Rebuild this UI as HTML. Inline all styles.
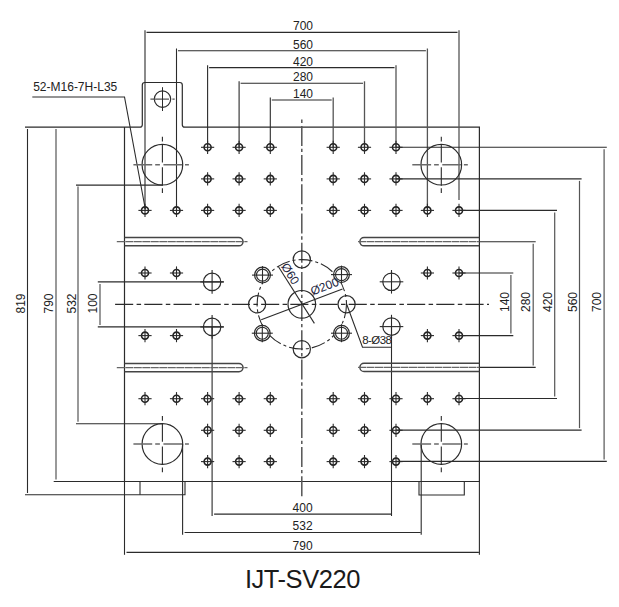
<!DOCTYPE html>
<html><head><meta charset="utf-8"><style>
html,body{margin:0;padding:0;background:#fff;}
body{width:619px;height:607px;overflow:hidden;}
svg{display:block;font-family:"Liberation Sans",sans-serif;}
</style></head><body>
<svg width="619" height="607" viewBox="0 0 619 607">
<rect width="619" height="607" fill="#fff"/>
<path d="M25,127.2 H139.8 Q142.3,127.2 142.3,124.7 V85 Q142.3,82.5 144.8,82.5 H179.8 Q182.3,82.5 182.3,85 V124.7 Q182.3,127.2 184.8,127.2 H479.4 V481.5 H124.5 V127.2" fill="none" stroke="#2b2b2b" stroke-width="1.2" />
<line x1="124.5" y1="481.5" x2="124.5" y2="554.8" stroke="#2b2b2b" stroke-width="1.1" />
<path d="M25,494.7 H185 V481.5" fill="none" stroke="#2b2b2b" stroke-width="1.1" />
<line x1="140" y1="481.5" x2="140" y2="494.7" stroke="#2b2b2b" stroke-width="1.1" />
<path d="M419,481.5 V495 H464.3 V481.5" fill="none" stroke="#2b2b2b" stroke-width="1.1" />
<circle cx="162.5" cy="99.1" r="8.2" fill="none" stroke="#2b2b2b" stroke-width="1.2" />
<line x1="150.4" y1="99.1" x2="174.7" y2="99.1" stroke="#555" stroke-width="1.3" stroke-dasharray="18.6 3.4 2.3 10"/>
<line x1="162.5" y1="87.2" x2="162.5" y2="111" stroke="#2b2b2b" stroke-width="1.0" />
<line x1="145" y1="30.2" x2="145" y2="209.0" stroke="#2b2b2b" stroke-width="1.1" />
<line x1="459" y1="30.2" x2="459" y2="200.0" stroke="#555" stroke-width="1.3" />
<line x1="146.5" y1="32.4" x2="457.5" y2="32.4" stroke="#2b2b2b" stroke-width="1.1" />
<text x="293" y="30.3" font-size="12" fill="#222" >700</text>
<line x1="176.5" y1="48.5" x2="176.5" y2="209.0" stroke="#2b2b2b" stroke-width="1.1" />
<line x1="427.4" y1="48.5" x2="427.4" y2="209.0" stroke="#555" stroke-width="1.3" />
<line x1="178.0" y1="50.8" x2="425.9" y2="50.8" stroke="#2b2b2b" stroke-width="1.1" />
<text x="293" y="49.2" font-size="12" fill="#222" >560</text>
<line x1="207.6" y1="65.2" x2="207.6" y2="147.3" stroke="#2b2b2b" stroke-width="1.1" />
<line x1="396" y1="65.2" x2="396" y2="147.3" stroke="#555" stroke-width="1.3" />
<line x1="209.1" y1="67.6" x2="394.5" y2="67.6" stroke="#2b2b2b" stroke-width="1.1" />
<text x="293" y="66.0" font-size="12" fill="#222" >420</text>
<line x1="239.1" y1="81.3" x2="239.1" y2="147.3" stroke="#2b2b2b" stroke-width="1.1" />
<line x1="364.5" y1="81.3" x2="364.5" y2="147.3" stroke="#555" stroke-width="1.3" />
<line x1="240.6" y1="83.2" x2="363.0" y2="83.2" stroke="#2b2b2b" stroke-width="1.1" />
<text x="293" y="81.0" font-size="12" fill="#222" >280</text>
<line x1="270.3" y1="97.4" x2="270.3" y2="147.3" stroke="#2b2b2b" stroke-width="1.1" />
<line x1="333.2" y1="97.4" x2="333.2" y2="147.3" stroke="#555" stroke-width="1.3" />
<line x1="271.8" y1="100.0" x2="331.7" y2="100.0" stroke="#2b2b2b" stroke-width="1.1" />
<text x="293" y="97.8" font-size="12" fill="#222" >140</text>
<line x1="396" y1="147.3" x2="606.8" y2="147.3" stroke="#2b2b2b" stroke-width="1.1" />
<line x1="396" y1="461.4" x2="606.8" y2="461.4" stroke="#2b2b2b" stroke-width="1.1" />
<line x1="604.1" y1="149.3" x2="604.1" y2="459.4" stroke="#555" stroke-width="1.2" />
<text x="0" y="0" font-size="12" fill="#222" transform="translate(601.2,312) rotate(-90)">700</text>
<line x1="396" y1="178.9" x2="581.6" y2="178.9" stroke="#2b2b2b" stroke-width="1.1" />
<line x1="396" y1="430.1" x2="581.6" y2="430.1" stroke="#2b2b2b" stroke-width="1.1" />
<line x1="579.5" y1="180.9" x2="579.5" y2="428.1" stroke="#555" stroke-width="1.2" />
<text x="0" y="0" font-size="12" fill="#222" transform="translate(576.6,312) rotate(-90)">560</text>
<line x1="459" y1="210.4" x2="557.0" y2="210.4" stroke="#2b2b2b" stroke-width="1.1" />
<line x1="459" y1="398.5" x2="557.0" y2="398.5" stroke="#2b2b2b" stroke-width="1.1" />
<line x1="554.7" y1="212.4" x2="554.7" y2="396.5" stroke="#555" stroke-width="1.2" />
<text x="0" y="0" font-size="12" fill="#222" transform="translate(551.8,312) rotate(-90)">420</text>
<line x1="479.4" y1="241.7" x2="535.7" y2="241.7" stroke="#2b2b2b" stroke-width="1.1" />
<line x1="479.4" y1="367.4" x2="535.7" y2="367.4" stroke="#2b2b2b" stroke-width="1.1" />
<line x1="533.2" y1="243.7" x2="533.2" y2="365.4" stroke="#555" stroke-width="1.2" />
<text x="0" y="0" font-size="12" fill="#222" transform="translate(530.2,312) rotate(-90)">280</text>
<line x1="459" y1="273.0" x2="513.3" y2="273.0" stroke="#2b2b2b" stroke-width="1.1" />
<line x1="459" y1="335.6" x2="513.3" y2="335.6" stroke="#2b2b2b" stroke-width="1.1" />
<line x1="510.9" y1="275.0" x2="510.9" y2="333.6" stroke="#555" stroke-width="1.2" />
<text x="0" y="0" font-size="12" fill="#222" transform="translate(508.5,312) rotate(-90)">140</text>
<line x1="27.5" y1="129" x2="27.5" y2="493" stroke="#2b2b2b" stroke-width="1.1" />
<text x="0" y="0" font-size="12" fill="#222" transform="translate(24.9,313.5) rotate(-90)">819</text>
<line x1="56" y1="129" x2="56" y2="479.5" stroke="#555" stroke-width="1.2" />
<line x1="53.7" y1="481.5" x2="124.5" y2="481.5" stroke="#2b2b2b" stroke-width="1.1" />
<text x="0" y="0" font-size="12" fill="#222" transform="translate(53.3,313.5) rotate(-90)">790</text>
<line x1="76" y1="185.1" x2="162.4" y2="185.1" stroke="#2b2b2b" stroke-width="1.1" />
<line x1="76" y1="423.8" x2="162.4" y2="423.8" stroke="#2b2b2b" stroke-width="1.1" />
<line x1="78" y1="186.6" x2="78" y2="421.8" stroke="#555" stroke-width="1.2" />
<text x="0" y="0" font-size="12" fill="#222" transform="translate(75.5,313.5) rotate(-90)">532</text>
<line x1="97.8" y1="281.9" x2="223.7" y2="281.9" stroke="#2b2b2b" stroke-width="1.1" />
<line x1="97.8" y1="326.9" x2="223.7" y2="326.9" stroke="#2b2b2b" stroke-width="1.1" />
<line x1="100" y1="283.9" x2="100" y2="324.9" stroke="#555" stroke-width="1.2" />
<text x="0" y="0" font-size="12" fill="#222" transform="translate(97.4,313.5) rotate(-90)">100</text>
<line x1="212.1" y1="326.9" x2="212.1" y2="516.0" stroke="#2b2b2b" stroke-width="1.1" />
<line x1="391.5" y1="326.5" x2="391.5" y2="516.0" stroke="#2b2b2b" stroke-width="1.1" />
<line x1="214.1" y1="514.1" x2="391.0" y2="514.1" stroke="#2b2b2b" stroke-width="1.1" />
<text x="292.6" y="512.0" font-size="12" fill="#222" >400</text>
<line x1="182.6" y1="444.0" x2="182.6" y2="534.8" stroke="#2b2b2b" stroke-width="1.1" />
<line x1="421.2" y1="444.0" x2="421.2" y2="534.8" stroke="#2b2b2b" stroke-width="1.1" />
<line x1="184.6" y1="532.5" x2="420.7" y2="532.5" stroke="#2b2b2b" stroke-width="1.1" />
<text x="292.6" y="529.7" font-size="12" fill="#222" >532</text>
<line x1="479.4" y1="481.5" x2="479.4" y2="554.8" stroke="#2b2b2b" stroke-width="1.1" />
<line x1="126.5" y1="552.4" x2="478.9" y2="552.4" stroke="#2b2b2b" stroke-width="1.1" />
<text x="292.6" y="550.4" font-size="12" fill="#222" >790</text>
<path d="M32.3,97 H124.5 L145.4,209.5" fill="none" stroke="#2b2b2b" stroke-width="1.1" />
<text x="33.2" y="91" font-size="12" fill="#222" >52-M16-7H-L35</text>
<circle cx="207.6" cy="147.3" r="3.5" fill="none" stroke="#222" stroke-width="1.6" />
<line x1="201.0" y1="147.3" x2="214.2" y2="147.3" stroke="#2b2b2b" stroke-width="1.1" />
<line x1="207.6" y1="140.70000000000002" x2="207.6" y2="153.9" stroke="#2b2b2b" stroke-width="1.1" />
<circle cx="239.1" cy="147.3" r="3.5" fill="none" stroke="#222" stroke-width="1.6" />
<line x1="232.5" y1="147.3" x2="245.7" y2="147.3" stroke="#2b2b2b" stroke-width="1.1" />
<line x1="239.1" y1="140.70000000000002" x2="239.1" y2="153.9" stroke="#2b2b2b" stroke-width="1.1" />
<circle cx="270.3" cy="147.3" r="3.5" fill="none" stroke="#222" stroke-width="1.6" />
<line x1="263.7" y1="147.3" x2="276.90000000000003" y2="147.3" stroke="#2b2b2b" stroke-width="1.1" />
<line x1="270.3" y1="140.70000000000002" x2="270.3" y2="153.9" stroke="#2b2b2b" stroke-width="1.1" />
<circle cx="333.2" cy="147.3" r="3.5" fill="none" stroke="#222" stroke-width="1.6" />
<line x1="326.59999999999997" y1="147.3" x2="339.8" y2="147.3" stroke="#2b2b2b" stroke-width="1.1" />
<line x1="333.2" y1="140.70000000000002" x2="333.2" y2="153.9" stroke="#2b2b2b" stroke-width="1.1" />
<circle cx="364.5" cy="147.3" r="3.5" fill="none" stroke="#222" stroke-width="1.6" />
<line x1="357.9" y1="147.3" x2="371.1" y2="147.3" stroke="#2b2b2b" stroke-width="1.1" />
<line x1="364.5" y1="140.70000000000002" x2="364.5" y2="153.9" stroke="#2b2b2b" stroke-width="1.1" />
<circle cx="396" cy="147.3" r="3.5" fill="none" stroke="#222" stroke-width="1.6" />
<line x1="389.4" y1="147.3" x2="402.6" y2="147.3" stroke="#2b2b2b" stroke-width="1.1" />
<line x1="396" y1="140.70000000000002" x2="396" y2="153.9" stroke="#2b2b2b" stroke-width="1.1" />
<circle cx="207.6" cy="178.9" r="3.5" fill="none" stroke="#222" stroke-width="1.6" />
<line x1="201.0" y1="178.9" x2="214.2" y2="178.9" stroke="#2b2b2b" stroke-width="1.1" />
<line x1="207.6" y1="172.3" x2="207.6" y2="185.5" stroke="#2b2b2b" stroke-width="1.1" />
<circle cx="239.1" cy="178.9" r="3.5" fill="none" stroke="#222" stroke-width="1.6" />
<line x1="232.5" y1="178.9" x2="245.7" y2="178.9" stroke="#2b2b2b" stroke-width="1.1" />
<line x1="239.1" y1="172.3" x2="239.1" y2="185.5" stroke="#2b2b2b" stroke-width="1.1" />
<circle cx="270.3" cy="178.9" r="3.5" fill="none" stroke="#222" stroke-width="1.6" />
<line x1="263.7" y1="178.9" x2="276.90000000000003" y2="178.9" stroke="#2b2b2b" stroke-width="1.1" />
<line x1="270.3" y1="172.3" x2="270.3" y2="185.5" stroke="#2b2b2b" stroke-width="1.1" />
<circle cx="333.2" cy="178.9" r="3.5" fill="none" stroke="#222" stroke-width="1.6" />
<line x1="326.59999999999997" y1="178.9" x2="339.8" y2="178.9" stroke="#2b2b2b" stroke-width="1.1" />
<line x1="333.2" y1="172.3" x2="333.2" y2="185.5" stroke="#2b2b2b" stroke-width="1.1" />
<circle cx="364.5" cy="178.9" r="3.5" fill="none" stroke="#222" stroke-width="1.6" />
<line x1="357.9" y1="178.9" x2="371.1" y2="178.9" stroke="#2b2b2b" stroke-width="1.1" />
<line x1="364.5" y1="172.3" x2="364.5" y2="185.5" stroke="#2b2b2b" stroke-width="1.1" />
<circle cx="396" cy="178.9" r="3.5" fill="none" stroke="#222" stroke-width="1.6" />
<line x1="389.4" y1="178.9" x2="402.6" y2="178.9" stroke="#2b2b2b" stroke-width="1.1" />
<line x1="396" y1="172.3" x2="396" y2="185.5" stroke="#2b2b2b" stroke-width="1.1" />
<circle cx="145" cy="210.4" r="3.5" fill="none" stroke="#222" stroke-width="1.6" />
<line x1="138.4" y1="210.4" x2="151.6" y2="210.4" stroke="#2b2b2b" stroke-width="1.1" />
<line x1="145" y1="203.8" x2="145" y2="217.0" stroke="#2b2b2b" stroke-width="1.1" />
<circle cx="176.5" cy="210.4" r="3.5" fill="none" stroke="#222" stroke-width="1.6" />
<line x1="169.9" y1="210.4" x2="183.1" y2="210.4" stroke="#2b2b2b" stroke-width="1.1" />
<line x1="176.5" y1="203.8" x2="176.5" y2="217.0" stroke="#2b2b2b" stroke-width="1.1" />
<circle cx="207.6" cy="210.4" r="3.5" fill="none" stroke="#222" stroke-width="1.6" />
<line x1="201.0" y1="210.4" x2="214.2" y2="210.4" stroke="#2b2b2b" stroke-width="1.1" />
<line x1="207.6" y1="203.8" x2="207.6" y2="217.0" stroke="#2b2b2b" stroke-width="1.1" />
<circle cx="239.1" cy="210.4" r="3.5" fill="none" stroke="#222" stroke-width="1.6" />
<line x1="232.5" y1="210.4" x2="245.7" y2="210.4" stroke="#2b2b2b" stroke-width="1.1" />
<line x1="239.1" y1="203.8" x2="239.1" y2="217.0" stroke="#2b2b2b" stroke-width="1.1" />
<circle cx="270.3" cy="210.4" r="3.5" fill="none" stroke="#222" stroke-width="1.6" />
<line x1="263.7" y1="210.4" x2="276.90000000000003" y2="210.4" stroke="#2b2b2b" stroke-width="1.1" />
<line x1="270.3" y1="203.8" x2="270.3" y2="217.0" stroke="#2b2b2b" stroke-width="1.1" />
<circle cx="333.2" cy="210.4" r="3.5" fill="none" stroke="#222" stroke-width="1.6" />
<line x1="326.59999999999997" y1="210.4" x2="339.8" y2="210.4" stroke="#2b2b2b" stroke-width="1.1" />
<line x1="333.2" y1="203.8" x2="333.2" y2="217.0" stroke="#2b2b2b" stroke-width="1.1" />
<circle cx="364.5" cy="210.4" r="3.5" fill="none" stroke="#222" stroke-width="1.6" />
<line x1="357.9" y1="210.4" x2="371.1" y2="210.4" stroke="#2b2b2b" stroke-width="1.1" />
<line x1="364.5" y1="203.8" x2="364.5" y2="217.0" stroke="#2b2b2b" stroke-width="1.1" />
<circle cx="396" cy="210.4" r="3.5" fill="none" stroke="#222" stroke-width="1.6" />
<line x1="389.4" y1="210.4" x2="402.6" y2="210.4" stroke="#2b2b2b" stroke-width="1.1" />
<line x1="396" y1="203.8" x2="396" y2="217.0" stroke="#2b2b2b" stroke-width="1.1" />
<circle cx="427.4" cy="210.4" r="3.5" fill="none" stroke="#222" stroke-width="1.6" />
<line x1="420.79999999999995" y1="210.4" x2="434.0" y2="210.4" stroke="#2b2b2b" stroke-width="1.1" />
<line x1="427.4" y1="203.8" x2="427.4" y2="217.0" stroke="#2b2b2b" stroke-width="1.1" />
<circle cx="459" cy="210.4" r="3.5" fill="none" stroke="#222" stroke-width="1.6" />
<line x1="452.4" y1="210.4" x2="465.6" y2="210.4" stroke="#2b2b2b" stroke-width="1.1" />
<line x1="459" y1="203.8" x2="459" y2="217.0" stroke="#2b2b2b" stroke-width="1.1" />
<circle cx="145" cy="273" r="3.5" fill="none" stroke="#222" stroke-width="1.6" />
<line x1="138.4" y1="273" x2="151.6" y2="273" stroke="#2b2b2b" stroke-width="1.1" />
<line x1="145" y1="266.4" x2="145" y2="279.6" stroke="#2b2b2b" stroke-width="1.1" />
<circle cx="176.5" cy="273" r="3.5" fill="none" stroke="#222" stroke-width="1.6" />
<line x1="169.9" y1="273" x2="183.1" y2="273" stroke="#2b2b2b" stroke-width="1.1" />
<line x1="176.5" y1="266.4" x2="176.5" y2="279.6" stroke="#2b2b2b" stroke-width="1.1" />
<circle cx="427.4" cy="273" r="3.5" fill="none" stroke="#222" stroke-width="1.6" />
<line x1="420.79999999999995" y1="273" x2="434.0" y2="273" stroke="#2b2b2b" stroke-width="1.1" />
<line x1="427.4" y1="266.4" x2="427.4" y2="279.6" stroke="#2b2b2b" stroke-width="1.1" />
<circle cx="459" cy="273" r="3.5" fill="none" stroke="#222" stroke-width="1.6" />
<line x1="452.4" y1="273" x2="465.6" y2="273" stroke="#2b2b2b" stroke-width="1.1" />
<line x1="459" y1="266.4" x2="459" y2="279.6" stroke="#2b2b2b" stroke-width="1.1" />
<circle cx="145" cy="335.6" r="3.5" fill="none" stroke="#222" stroke-width="1.6" />
<line x1="138.4" y1="335.6" x2="151.6" y2="335.6" stroke="#2b2b2b" stroke-width="1.1" />
<line x1="145" y1="329.0" x2="145" y2="342.20000000000005" stroke="#2b2b2b" stroke-width="1.1" />
<circle cx="176.5" cy="335.6" r="3.5" fill="none" stroke="#222" stroke-width="1.6" />
<line x1="169.9" y1="335.6" x2="183.1" y2="335.6" stroke="#2b2b2b" stroke-width="1.1" />
<line x1="176.5" y1="329.0" x2="176.5" y2="342.20000000000005" stroke="#2b2b2b" stroke-width="1.1" />
<circle cx="427.4" cy="335.6" r="3.5" fill="none" stroke="#222" stroke-width="1.6" />
<line x1="420.79999999999995" y1="335.6" x2="434.0" y2="335.6" stroke="#2b2b2b" stroke-width="1.1" />
<line x1="427.4" y1="329.0" x2="427.4" y2="342.20000000000005" stroke="#2b2b2b" stroke-width="1.1" />
<circle cx="459" cy="335.6" r="3.5" fill="none" stroke="#222" stroke-width="1.6" />
<line x1="452.4" y1="335.6" x2="465.6" y2="335.6" stroke="#2b2b2b" stroke-width="1.1" />
<line x1="459" y1="329.0" x2="459" y2="342.20000000000005" stroke="#2b2b2b" stroke-width="1.1" />
<circle cx="145" cy="398.7" r="3.5" fill="none" stroke="#222" stroke-width="1.6" />
<line x1="138.4" y1="398.7" x2="151.6" y2="398.7" stroke="#2b2b2b" stroke-width="1.1" />
<line x1="145" y1="392.09999999999997" x2="145" y2="405.3" stroke="#2b2b2b" stroke-width="1.1" />
<circle cx="176.5" cy="398.7" r="3.5" fill="none" stroke="#222" stroke-width="1.6" />
<line x1="169.9" y1="398.7" x2="183.1" y2="398.7" stroke="#2b2b2b" stroke-width="1.1" />
<line x1="176.5" y1="392.09999999999997" x2="176.5" y2="405.3" stroke="#2b2b2b" stroke-width="1.1" />
<circle cx="207.6" cy="398.7" r="3.5" fill="none" stroke="#222" stroke-width="1.6" />
<line x1="201.0" y1="398.7" x2="214.2" y2="398.7" stroke="#2b2b2b" stroke-width="1.1" />
<line x1="207.6" y1="392.09999999999997" x2="207.6" y2="405.3" stroke="#2b2b2b" stroke-width="1.1" />
<circle cx="239.1" cy="398.7" r="3.5" fill="none" stroke="#222" stroke-width="1.6" />
<line x1="232.5" y1="398.7" x2="245.7" y2="398.7" stroke="#2b2b2b" stroke-width="1.1" />
<line x1="239.1" y1="392.09999999999997" x2="239.1" y2="405.3" stroke="#2b2b2b" stroke-width="1.1" />
<circle cx="270.3" cy="398.7" r="3.5" fill="none" stroke="#222" stroke-width="1.6" />
<line x1="263.7" y1="398.7" x2="276.90000000000003" y2="398.7" stroke="#2b2b2b" stroke-width="1.1" />
<line x1="270.3" y1="392.09999999999997" x2="270.3" y2="405.3" stroke="#2b2b2b" stroke-width="1.1" />
<circle cx="333.2" cy="398.7" r="3.5" fill="none" stroke="#222" stroke-width="1.6" />
<line x1="326.59999999999997" y1="398.7" x2="339.8" y2="398.7" stroke="#2b2b2b" stroke-width="1.1" />
<line x1="333.2" y1="392.09999999999997" x2="333.2" y2="405.3" stroke="#2b2b2b" stroke-width="1.1" />
<circle cx="364.5" cy="398.7" r="3.5" fill="none" stroke="#222" stroke-width="1.6" />
<line x1="357.9" y1="398.7" x2="371.1" y2="398.7" stroke="#2b2b2b" stroke-width="1.1" />
<line x1="364.5" y1="392.09999999999997" x2="364.5" y2="405.3" stroke="#2b2b2b" stroke-width="1.1" />
<circle cx="396" cy="398.7" r="3.5" fill="none" stroke="#222" stroke-width="1.6" />
<line x1="389.4" y1="398.7" x2="402.6" y2="398.7" stroke="#2b2b2b" stroke-width="1.1" />
<line x1="396" y1="392.09999999999997" x2="396" y2="405.3" stroke="#2b2b2b" stroke-width="1.1" />
<circle cx="427.4" cy="398.7" r="3.5" fill="none" stroke="#222" stroke-width="1.6" />
<line x1="420.79999999999995" y1="398.7" x2="434.0" y2="398.7" stroke="#2b2b2b" stroke-width="1.1" />
<line x1="427.4" y1="392.09999999999997" x2="427.4" y2="405.3" stroke="#2b2b2b" stroke-width="1.1" />
<circle cx="459" cy="398.7" r="3.5" fill="none" stroke="#222" stroke-width="1.6" />
<line x1="452.4" y1="398.7" x2="465.6" y2="398.7" stroke="#2b2b2b" stroke-width="1.1" />
<line x1="459" y1="392.09999999999997" x2="459" y2="405.3" stroke="#2b2b2b" stroke-width="1.1" />
<circle cx="207.6" cy="430.3" r="3.5" fill="none" stroke="#222" stroke-width="1.6" />
<line x1="201.0" y1="430.3" x2="214.2" y2="430.3" stroke="#2b2b2b" stroke-width="1.1" />
<line x1="207.6" y1="423.7" x2="207.6" y2="436.90000000000003" stroke="#2b2b2b" stroke-width="1.1" />
<circle cx="239.1" cy="430.3" r="3.5" fill="none" stroke="#222" stroke-width="1.6" />
<line x1="232.5" y1="430.3" x2="245.7" y2="430.3" stroke="#2b2b2b" stroke-width="1.1" />
<line x1="239.1" y1="423.7" x2="239.1" y2="436.90000000000003" stroke="#2b2b2b" stroke-width="1.1" />
<circle cx="270.3" cy="430.3" r="3.5" fill="none" stroke="#222" stroke-width="1.6" />
<line x1="263.7" y1="430.3" x2="276.90000000000003" y2="430.3" stroke="#2b2b2b" stroke-width="1.1" />
<line x1="270.3" y1="423.7" x2="270.3" y2="436.90000000000003" stroke="#2b2b2b" stroke-width="1.1" />
<circle cx="333.2" cy="430.3" r="3.5" fill="none" stroke="#222" stroke-width="1.6" />
<line x1="326.59999999999997" y1="430.3" x2="339.8" y2="430.3" stroke="#2b2b2b" stroke-width="1.1" />
<line x1="333.2" y1="423.7" x2="333.2" y2="436.90000000000003" stroke="#2b2b2b" stroke-width="1.1" />
<circle cx="364.5" cy="430.3" r="3.5" fill="none" stroke="#222" stroke-width="1.6" />
<line x1="357.9" y1="430.3" x2="371.1" y2="430.3" stroke="#2b2b2b" stroke-width="1.1" />
<line x1="364.5" y1="423.7" x2="364.5" y2="436.90000000000003" stroke="#2b2b2b" stroke-width="1.1" />
<circle cx="396" cy="430.3" r="3.5" fill="none" stroke="#222" stroke-width="1.6" />
<line x1="389.4" y1="430.3" x2="402.6" y2="430.3" stroke="#2b2b2b" stroke-width="1.1" />
<line x1="396" y1="423.7" x2="396" y2="436.90000000000003" stroke="#2b2b2b" stroke-width="1.1" />
<circle cx="207.6" cy="461.6" r="3.5" fill="none" stroke="#222" stroke-width="1.6" />
<line x1="201.0" y1="461.6" x2="214.2" y2="461.6" stroke="#2b2b2b" stroke-width="1.1" />
<line x1="207.6" y1="455.0" x2="207.6" y2="468.20000000000005" stroke="#2b2b2b" stroke-width="1.1" />
<circle cx="239.1" cy="461.6" r="3.5" fill="none" stroke="#222" stroke-width="1.6" />
<line x1="232.5" y1="461.6" x2="245.7" y2="461.6" stroke="#2b2b2b" stroke-width="1.1" />
<line x1="239.1" y1="455.0" x2="239.1" y2="468.20000000000005" stroke="#2b2b2b" stroke-width="1.1" />
<circle cx="270.3" cy="461.6" r="3.5" fill="none" stroke="#222" stroke-width="1.6" />
<line x1="263.7" y1="461.6" x2="276.90000000000003" y2="461.6" stroke="#2b2b2b" stroke-width="1.1" />
<line x1="270.3" y1="455.0" x2="270.3" y2="468.20000000000005" stroke="#2b2b2b" stroke-width="1.1" />
<circle cx="333.2" cy="461.6" r="3.5" fill="none" stroke="#222" stroke-width="1.6" />
<line x1="326.59999999999997" y1="461.6" x2="339.8" y2="461.6" stroke="#2b2b2b" stroke-width="1.1" />
<line x1="333.2" y1="455.0" x2="333.2" y2="468.20000000000005" stroke="#2b2b2b" stroke-width="1.1" />
<circle cx="364.5" cy="461.6" r="3.5" fill="none" stroke="#222" stroke-width="1.6" />
<line x1="357.9" y1="461.6" x2="371.1" y2="461.6" stroke="#2b2b2b" stroke-width="1.1" />
<line x1="364.5" y1="455.0" x2="364.5" y2="468.20000000000005" stroke="#2b2b2b" stroke-width="1.1" />
<circle cx="396" cy="461.6" r="3.5" fill="none" stroke="#222" stroke-width="1.6" />
<line x1="389.4" y1="461.6" x2="402.6" y2="461.6" stroke="#2b2b2b" stroke-width="1.1" />
<line x1="396" y1="455.0" x2="396" y2="468.20000000000005" stroke="#2b2b2b" stroke-width="1.1" />
<circle cx="162.4" cy="164.7" r="20.3" fill="none" stroke="#2b2b2b" stroke-width="1.2" />
<line x1="133.4" y1="164.7" x2="188.9" y2="164.7" stroke="#6a6a6a" stroke-width="1.5" stroke-dasharray="18.8 3 4.7 3.5 18.6 3 4.4 100"/>
<line x1="162.4" y1="136.7" x2="162.4" y2="193.2" stroke="#2b2b2b" stroke-width="1.1" stroke-dasharray="4.7 2.6 18.5 4.7 18.5 2.6 4.7 100"/>
<circle cx="441.3" cy="164.7" r="20.3" fill="none" stroke="#2b2b2b" stroke-width="1.2" />
<line x1="412.3" y1="164.7" x2="467.8" y2="164.7" stroke="#6a6a6a" stroke-width="1.5" stroke-dasharray="18.8 3 4.7 3.5 18.6 3 4.4 100"/>
<line x1="441.3" y1="136.7" x2="441.3" y2="193.2" stroke="#2b2b2b" stroke-width="1.1" stroke-dasharray="4.7 2.6 18.5 4.7 18.5 2.6 4.7 100"/>
<circle cx="162.4" cy="444" r="20.3" fill="none" stroke="#2b2b2b" stroke-width="1.2" />
<line x1="133.4" y1="444" x2="188.9" y2="444" stroke="#6a6a6a" stroke-width="1.5" stroke-dasharray="18.8 3 4.7 3.5 18.6 3 4.4 100"/>
<line x1="162.4" y1="416" x2="162.4" y2="472.5" stroke="#2b2b2b" stroke-width="1.1" stroke-dasharray="4.7 2.6 18.5 4.7 18.5 2.6 4.7 100"/>
<circle cx="441.3" cy="444" r="20.3" fill="none" stroke="#2b2b2b" stroke-width="1.2" />
<line x1="412.3" y1="444" x2="467.8" y2="444" stroke="#6a6a6a" stroke-width="1.5" stroke-dasharray="18.8 3 4.7 3.5 18.6 3 4.4 100"/>
<line x1="441.3" y1="416" x2="441.3" y2="472.5" stroke="#2b2b2b" stroke-width="1.1" stroke-dasharray="4.7 2.6 18.5 4.7 18.5 2.6 4.7 100"/>
<circle cx="212.1" cy="281.9" r="8.7" fill="none" stroke="#2b2b2b" stroke-width="1.2" />
<line x1="200.29999999999998" y1="281.9" x2="223.9" y2="281.9" stroke="#2b2b2b" stroke-width="1.1" />
<line x1="212.1" y1="270.09999999999997" x2="212.1" y2="293.7" stroke="#2b2b2b" stroke-width="1.1" />
<circle cx="212.1" cy="326.9" r="8.7" fill="none" stroke="#2b2b2b" stroke-width="1.2" />
<line x1="200.29999999999998" y1="326.9" x2="223.9" y2="326.9" stroke="#2b2b2b" stroke-width="1.1" />
<line x1="212.1" y1="315.09999999999997" x2="212.1" y2="338.7" stroke="#2b2b2b" stroke-width="1.1" />
<circle cx="391.5" cy="281.8" r="8.7" fill="none" stroke="#2b2b2b" stroke-width="1.2" />
<line x1="379.7" y1="281.8" x2="403.3" y2="281.8" stroke="#2b2b2b" stroke-width="1.1" />
<line x1="391.5" y1="270.0" x2="391.5" y2="293.6" stroke="#2b2b2b" stroke-width="1.1" />
<circle cx="391.5" cy="326.6" r="8.7" fill="none" stroke="#2b2b2b" stroke-width="1.2" />
<line x1="379.7" y1="326.6" x2="403.3" y2="326.6" stroke="#2b2b2b" stroke-width="1.1" />
<line x1="391.5" y1="314.8" x2="391.5" y2="338.40000000000003" stroke="#2b2b2b" stroke-width="1.1" />
<path d="M124.5,237.6 H238.9 A4.1,4.1 0 0 1 238.9,245.79999999999998 H124.5" fill="none" stroke="#444" stroke-width="1.5" />
<line x1="116.8" y1="241.7" x2="247.5" y2="241.7" stroke="#666" stroke-width="1.3" stroke-dasharray="8 0.5"/>
<path d="M124.5,363.5 H238.9 A4.1,4.1 0 0 1 238.9,371.70000000000005 H124.5" fill="none" stroke="#444" stroke-width="1.5" />
<line x1="116.8" y1="367.6" x2="247.5" y2="367.6" stroke="#666" stroke-width="1.3" stroke-dasharray="8 0.5"/>
<path d="M479.4,237.6 H364 A4.1,4.1 0 0 0 364,245.79999999999998 H479.4" fill="none" stroke="#444" stroke-width="1.5" />
<line x1="358" y1="241.7" x2="479.4" y2="241.7" stroke="#666" stroke-width="1.3" stroke-dasharray="8 0.5"/>
<path d="M479.4,363.29999999999995 H364 A4.1,4.1 0 0 0 364,371.5 H479.4" fill="none" stroke="#444" stroke-width="1.5" />
<line x1="358" y1="367.4" x2="479.4" y2="367.4" stroke="#666" stroke-width="1.3" stroke-dasharray="8 0.5"/>
<line x1="115.1" y1="304.3" x2="489" y2="304.3" stroke="#2b2b2b" stroke-width="1.2" stroke-dasharray="18.1 3.4 4.5 3.2"/>
<line x1="301.8" y1="119.5" x2="301.8" y2="496.3" stroke="#555" stroke-width="1.5" stroke-dasharray="3.4 3 20 2.8"/>
<circle cx="301.8" cy="304.3" r="13.8" fill="none" stroke="#2b2b2b" stroke-width="1.2" />
<circle cx="301.8" cy="304.3" r="44.7" fill="none" stroke="#2b2b2b" stroke-width="1.1" stroke-dasharray="14 3 3 3"/>
<circle cx="257.1" cy="304.3" r="8.6" fill="none" stroke="#2b2b2b" stroke-width="1.2" />
<circle cx="346.6" cy="304.3" r="8.6" fill="none" stroke="#2b2b2b" stroke-width="1.2" />
<circle cx="301.8" cy="259.4" r="8.6" fill="none" stroke="#2b2b2b" stroke-width="1.2" />
<circle cx="301.8" cy="349.2" r="8.6" fill="none" stroke="#2b2b2b" stroke-width="1.2" />
<circle cx="262.5" cy="275.1" r="7.9" fill="#fff" stroke="#2b2b2b" stroke-width="1.2"/>
<circle cx="262.5" cy="275.1" r="6.0" fill="none" stroke="#2b2b2b" stroke-width="1.1" />
<line x1="252.0" y1="275.1" x2="273.0" y2="275.1" stroke="#2b2b2b" stroke-width="1.1" />
<line x1="262.5" y1="266.1" x2="262.5" y2="284.1" stroke="#2b2b2b" stroke-width="1.1" />
<circle cx="341.5" cy="274.6" r="7.9" fill="#fff" stroke="#2b2b2b" stroke-width="1.2"/>
<circle cx="341.5" cy="274.6" r="6.0" fill="none" stroke="#2b2b2b" stroke-width="1.1" />
<line x1="331.0" y1="274.6" x2="352.0" y2="274.6" stroke="#2b2b2b" stroke-width="1.1" />
<line x1="341.5" y1="265.6" x2="341.5" y2="283.6" stroke="#2b2b2b" stroke-width="1.1" />
<circle cx="262.3" cy="333.2" r="7.9" fill="#fff" stroke="#2b2b2b" stroke-width="1.2"/>
<circle cx="262.3" cy="333.2" r="6.0" fill="none" stroke="#2b2b2b" stroke-width="1.1" />
<line x1="251.8" y1="333.2" x2="272.8" y2="333.2" stroke="#2b2b2b" stroke-width="1.1" />
<line x1="262.3" y1="324.2" x2="262.3" y2="342.2" stroke="#2b2b2b" stroke-width="1.1" />
<circle cx="341.5" cy="333.2" r="7.9" fill="#fff" stroke="#2b2b2b" stroke-width="1.2"/>
<circle cx="341.5" cy="333.2" r="6.0" fill="none" stroke="#2b2b2b" stroke-width="1.1" />
<line x1="331.0" y1="333.2" x2="352.0" y2="333.2" stroke="#2b2b2b" stroke-width="1.1" />
<line x1="341.5" y1="324.2" x2="341.5" y2="342.2" stroke="#2b2b2b" stroke-width="1.1" />
<line x1="278" y1="266" x2="314.4" y2="323.4" stroke="#2b2b2b" stroke-width="1.1" />
<text x="0" y="0" font-size="12" fill="#1d2540" transform="translate(280.7,266.3) rotate(57.6)">Ø60</text>
<line x1="261.2" y1="319.8" x2="342.5" y2="289" stroke="#2b2b2b" stroke-width="1.1" />
<text x="0" y="0" font-size="12" fill="#1d2540" transform="translate(312.4,295.6) rotate(-21)">Ø200</text>
<path d="M346.6,304 L362.5,347.3 H391.5" fill="none" stroke="#2b2b2b" stroke-width="1.1" />
<text x="362.3" y="344.2" font-size="11.5" fill="#222" letter-spacing="-0.6">8-Ø38</text>
<text x="244.9" y="588" font-size="25.5" fill="#1a1a1a" letter-spacing="-0.45">IJT-SV220</text>
</svg>
</body></html>
